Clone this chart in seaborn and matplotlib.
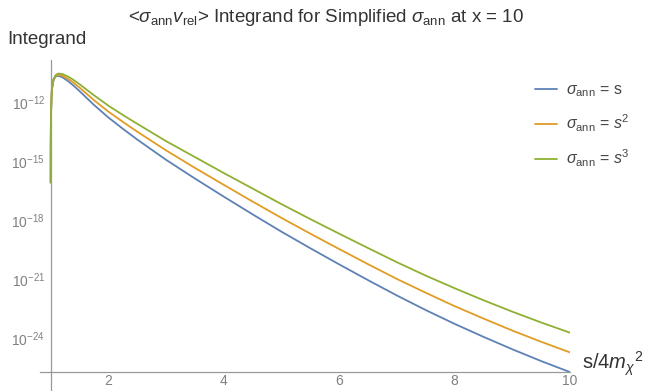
import numpy as np
import pandas as pd
import matplotlib
matplotlib.use("Agg")
import matplotlib.pyplot as plt
from matplotlib.ticker import FixedLocator, NullFormatter
import seaborn as sns

# s / 4 m_chi^2 sample points
s_vals = [1.0, 1.001, 1.005, 1.02, 1.05, 1.09, 1.13, 1.2, 1.3, 1.4, 1.5, 1.75,
          2.0, 2.25, 2.5, 3.0, 3.5, 4.0, 4.5, 5.0, 5.5, 6.0, 6.5, 7.0, 7.5,
          8.0, 8.5, 9.0, 9.5, 10.0]

# log10 of the integrand for each cross section
log_s1 = [-16.1, -14.3, -12.6, -11.40, -10.88, -10.71, -10.68, -10.75, -10.95, -11.19, -11.46, -12.16,
          -12.80, -13.37, -13.92, -14.95, -15.90, -16.82, -17.72, -18.60, -19.44, -20.26, -21.06, -21.84, -22.58,
          -23.28, -23.94, -24.57, -25.17, -25.73]
log_s2 = [-16.1, -14.3, -12.6, -11.39, -10.86, -10.67, -10.63, -10.67, -10.84, -11.04, -11.28, -11.92,
          -12.50, -13.02, -13.52, -14.47, -15.36, -16.22, -17.07, -17.90, -18.70, -19.48, -20.25, -21.00, -21.70,
          -22.38, -23.01, -23.62, -24.19, -24.73]
log_s3 = [-16.1, -14.3, -12.6, -11.38, -10.84, -10.64, -10.57, -10.59, -10.72, -10.90, -11.11, -11.67,
          -12.20, -12.67, -13.12, -14.00, -14.81, -15.62, -16.41, -17.20, -17.96, -18.70, -19.43, -20.15, -20.83,
          -21.47, -22.08, -22.66, -23.21, -23.73]

series_labels = [r"$\sigma_{\rm ann}$ = s", r"$\sigma_{\rm ann}$ = $s^2$", r"$\sigma_{\rm ann}$ = $s^3$"]
colors = ["#5E81B5", "#E19C24", "#8FB032"]

x_major = [2, 4, 6, 8, 10]
x_minor = [1.5, 2.5, 3, 3.5, 4.5, 5, 5.5, 6.5, 7, 7.5, 8.5, 9, 9.5]
y_major_exp = [-24, -21, -18, -15, -12]
y_minor_exp = [-25, -23, -22, -20, -19, -17, -16, -14, -13, -11, -10]

df = pd.concat([
    pd.DataFrame({"s": s_vals, "val": 10.0 ** np.array(v), "series": lab})
    for v, lab in zip([log_s1, log_s2, log_s3], series_labels)
], ignore_index=True)

sns.set_theme(style="white")
plt.rcParams["font.family"] = ["Liberation Sans", "DejaVu Sans"]
plt.rcParams["mathtext.fontset"] = "custom"
plt.rcParams["mathtext.rm"] = "Liberation Sans"
plt.rcParams["mathtext.it"] = "Liberation Sans:italic"

fig = plt.figure(figsize=(6.49, 3.91), dpi=100)
ax = fig.add_axes([40 / 649, 0.0, (570 - 40) / 649, (391 - 60) / 391])

sns.lineplot(data=df, x="s", y="val", hue="series", palette=colors,
             linewidth=1.3, ax=ax, legend=True)
ax.set_yscale("log")
ax.set_xlim(0.815, 10.0)
ax.set_ylim(10 ** -26.69, 10 ** -9.88)

axis_gray = "#999999"
label_gray = "#808080"
for side in ["top", "right"]:
    ax.spines[side].set_visible(False)
ax.spines["left"].set_position(("data", 1.0))
ax.spines["bottom"].set_position(("data", 10 ** -25.71))
for side in ["left", "bottom"]:
    ax.spines[side].set_color(axis_gray)
    ax.spines[side].set_linewidth(0.9)

ax.xaxis.set_major_locator(FixedLocator(x_major))
ax.xaxis.set_minor_locator(FixedLocator(x_minor))
ax.xaxis.set_minor_formatter(NullFormatter())
ax.set_xticklabels([str(v) for v in x_major])
ax.yaxis.set_major_locator(FixedLocator([10.0 ** e for e in y_major_exp]))
ax.yaxis.set_minor_locator(FixedLocator([10.0 ** e for e in y_minor_exp]))
ax.yaxis.set_minor_formatter(NullFormatter())
ax.set_yticklabels([r"$10^{%d}$" % e for e in y_major_exp])

ax.tick_params(axis="both", which="major", direction="in", length=5, width=0.9,
               color=axis_gray, labelcolor=label_gray, labelsize=10)
ax.tick_params(axis="both", which="minor", direction="in", length=3, width=0.8,
               color=axis_gray)
ax.tick_params(axis="x", which="major", pad=2)
ax.tick_params(axis="y", which="major", pad=4)
ax.set_xlabel("")
ax.set_ylabel("")

handles, labels = ax.get_legend_handles_labels()
ax.legend(handles, labels, loc="center left",
          bbox_to_anchor=(521 / 649, 1 - 126 / 391), bbox_transform=fig.transFigure,
          frameon=False, fontsize=11.5, handlelength=1.35, handletextpad=0.55,
          labelspacing=0.85, labelcolor="#444444")

fig.text(326 / 649, 1 - 18 / 391,
         r"<$\sigma_{\rm ann}v_{\rm rel}$> Integrand for Simplified $\sigma_{\rm ann}$ at x = 10",
         ha="center", va="center", fontsize=13.5, color="#333333")
fig.text(7 / 649, 1 - 40 / 391, "Integrand", ha="left", va="center",
         fontsize=13.5, color="#333333")
fig.text(582 / 649, 1 - 364 / 391, r"s/4$m_{\chi}{}^{2}$", ha="left", va="center",
         fontsize=14.5, color="#333333")

fig.savefig("out.png", dpi=100)
